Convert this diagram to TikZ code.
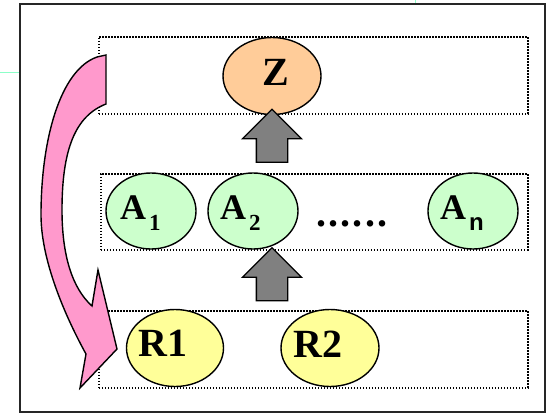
\documentclass[tikz,border=0pt]{standalone}
\usepackage{fontspec}
\setmainfont{Liberation Serif}
\setsansfont{Liberation Sans}
\usetikzlibrary{shapes.geometric,shapes.arrows}
\definecolor{goalfill}{RGB}{255,204,153}
\definecolor{actfill}{RGB}{204,255,204}
\definecolor{resfill}{RGB}{255,255,153}
\definecolor{loopfill}{RGB}{255,153,204}
\definecolor{risegray}{RGB}{128,128,128}
\definecolor{mint}{RGB}{140,255,200}
\tikzset{
  layer/.style={draw, line width=1.6pt, dash pattern=on 1.6pt off 1.4pt,
    anchor=north west, inner sep=0pt},
  blob/.style={ellipse, draw, line width=1.4pt, inner sep=0pt},
  tag/.style={anchor=base west, inner sep=0pt,
    font=\fontsize{40}{44}\selectfont\bfseries},
  acttag/.style={tag, font=\fontsize{36}{40}\selectfont\bfseries},
  rise/.style={single arrow, draw, fill=risegray, line width=1.3pt, rotate=90,
    minimum height=53pt, minimum width=58pt, inner sep=15pt,
    single arrow head extend=14pt},
}
\newcommand{\idx}[1]{\kern3pt\raisebox{-11pt}{\fontsize{23}{25}\selectfont #1}}
\newcommand{\gap}{\kern2.2pt}

\begin{document}
\begin{tikzpicture}[x=1pt,y=-1pt]
            \useasboundingbox (0,0) rectangle (550,413);
            % Frame
            \draw[line width=1.8pt, black!85] (20,4) rectangle (545,412);
            \draw[mint, line width=1pt] (0,72) -- (19,72);
            \draw[mint, line width=1pt] (415,0) -- (415,3);

            % Layers
            \node[layer, minimum width=429pt, minimum height=77pt] (goalrow) at (98,36) {};
            \node[layer, minimum width=427pt, minimum height=76pt] (actrow) at (100,173) {};
            \node[layer, minimum width=429pt, minimum height=77pt] (resrow) at (98,310) {};

            % Goal
            \node[blob, fill=goalfill, minimum width=98pt, minimum height=77pt] (z) at (272,76) {};
            \node[tag] (zt) at ([shift={(-10,9)}]z.center) {Z};

            % Actions
            \node[blob, fill=actfill, minimum width=90pt, minimum height=76pt] (a1) at (151,211) {};
            \node[blob, fill=actfill, minimum width=90pt, minimum height=76pt] (a2) at (253,211) {};
            \node[blob, fill=actfill, minimum width=90pt, minimum height=76pt] (an) at (473,211) {};
            \node[acttag] (a1t) at ([shift={(-31,8)}]a1.center) {A\idx{1}};
            \node[acttag] (a2t) at ([shift={(-33,8)}]a2.center) {A\idx{2}};
            \node[acttag] (ant) at ([shift={(-33,8)}]an.center) {A\idx{\fontsize{24}{26}\selectfont\sffamily n}};
            \node[tag] (dots) at (316,226) {.\gap.\gap.\gap.\gap.\gap.};

            % Resources
            \node[blob, fill=resfill, minimum width=97pt, minimum height=77pt] (r1) at (175,348) {};
            \node[blob, fill=resfill, minimum width=98pt, minimum height=77pt] (r2) at (330,348) {};
            \node[tag] (r1t) at ([shift={(-37,8)}]r1.center) {R1};
            \node[tag] (r2t) at ([shift={(-37,9)}]r2.center) {R2};

            % Up arrows
            \node[rise] (up1) at (z.south |- 0,143.5) {};
            \node[rise] (up2) at (z.south |- 0,282) {};

            % Loop back
            \draw[fill=loopfill, line width=1.4pt, line join=miter]
                (106,55) -- (106,104)
                .. controls (75,116) and (62,150) .. (62,210)
                .. controls (62,255) and (72,288) .. (92,306)
                -- (98,270) -- (117,349) -- (80,388) -- (86,354)
                .. controls (70,325) and (41,265) .. (41,215)
                .. controls (41,140) and (60,70) .. (97,57) -- cycle;
        \end{tikzpicture}
\end{document}
